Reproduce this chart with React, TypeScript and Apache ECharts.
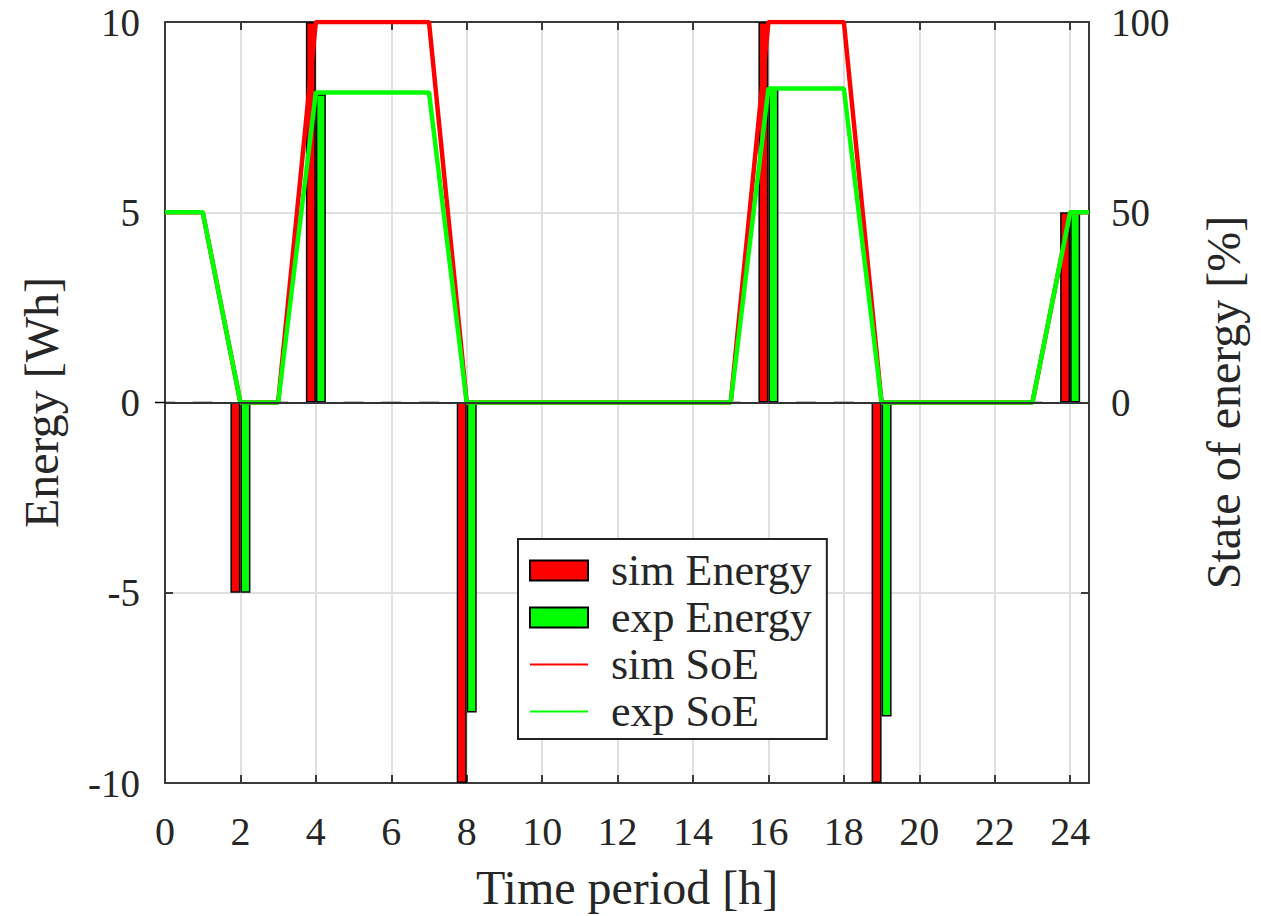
import React, { useEffect, useRef } from "react";
import * as echarts from "echarts";

// Hourly energy exchanged (Wh)
const hours = [0, 1, 2, 3, 4, 5, 6, 7, 8, 9, 10, 11, 12, 13, 14, 15, 16, 17, 18, 19, 20, 21, 22, 23, 24];
const simEnergy = [0, 0, -5, 0, 10, 0, 0, 0, -10, 0, 0, 0, 0, 0, 0, 0, 10, 0, 0, -10, 0, 0, 0, 0, 5];
const expEnergy = [0, 0, -5, 0, 8.1, 0, 0, 0, -8.15, 0, 0, 0, 0, 0, 0, 0, 8.25, 0, 0, -8.25, 0, 0, 0, 0, 5];

// State of energy (%)
const soeTime = [0, 1, 2, 3, 4, 7, 8, 15, 16, 18, 19, 23, 24, 24.5];
const simSoE = [50, 50, 0, 0, 100, 100, 0, 0, 100, 100, 0, 0, 50, 50];
const expSoE = [50, 50, 0, 0, 81.5, 81.5, 0, 0, 82.5, 82.5, 0, 0, 50, 50];

const FONT = "Liberation Serif";
const TEXT = "#262626";
const AXIS = "#3a3a3a";
const GRID = "#e0e0e0";
const LINE_ICON = "path://M0,0H58V2H0Z";

export default function App() {
  const ref = useRef<HTMLDivElement>(null);

  useEffect(() => {
    if (!ref.current) return;
    const chart = echarts.init(ref.current, null, { renderer: "svg" });

    const tickStyle = { show: true, inside: true, length: 8, lineStyle: { color: AXIS, width: 2 } };
    const lineStyle = { show: true, onZero: false, lineStyle: { color: AXIS, width: 2 } };
    const yLabel = { fontFamily: FONT, fontSize: 39, color: TEXT };

    const option: any = {
      animation: false,
      backgroundColor: "#fff",
      grid: { left: 165, right: 172, top: 22, bottom: 133, containLabel: false },
      legend: {
        orient: "vertical",
        left: 518,
        top: 539,
        padding: [8, 15, 4, 11],
        itemWidth: 58,
        itemHeight: 20,
        itemGap: 0,
        backgroundColor: "#fff",
        borderColor: "#222",
        borderWidth: 2,
        borderRadius: 0,
        textStyle: { fontFamily: FONT, fontSize: 44, color: TEXT, lineHeight: 47, padding: [0, 0, 0, 18] },
        data: [
          { name: "sim Energy", icon: "rect" },
          { name: "exp Energy", icon: "rect" },
          { name: "sim SoE", icon: LINE_ICON, itemStyle: { color: "#ff0000", borderWidth: 0 } },
          { name: "exp SoE", icon: LINE_ICON, itemStyle: { color: "#00ff00", borderWidth: 0 } },
        ],
      },
      xAxis: [
        {
          type: "value",
          min: 0,
          max: 24.5,
          interval: 2,
          position: "bottom",
          name: "Time period [h]",
          nameLocation: "middle",
          nameGap: 80,
          nameTextStyle: { fontFamily: FONT, fontSize: 48, color: TEXT },
          axisLine: lineStyle,
          axisTick: tickStyle,
          axisLabel: {
            fontFamily: FONT,
            fontSize: 40,
            color: TEXT,
            margin: 28,
            formatter: (v: number) => (v > 24 ? "" : String(v)),
          },
          splitLine: { show: true, showMinLine: false, showMaxLine: false, lineStyle: { color: GRID, width: 2 } },
        },
        {
          type: "value",
          min: 0,
          max: 24.5,
          interval: 2,
          position: "top",
          axisLine: lineStyle,
          axisTick: tickStyle,
          axisLabel: { show: false },
          splitLine: { show: false },
        },
      ],
      yAxis: [
        {
          type: "value",
          min: -10,
          max: 10,
          interval: 5,
          position: "left",
          name: "Energy [Wh]",
          nameLocation: "middle",
          nameGap: 100,
          nameRotate: 90,
          nameTextStyle: { fontFamily: FONT, fontSize: 48, color: TEXT },
          axisLine: lineStyle,
          axisTick: tickStyle,
          axisLabel: { ...yLabel, margin: 25 },
          splitLine: { show: true, showMinLine: false, showMaxLine: false, lineStyle: { color: GRID, width: 2 } },
        },
        {
          type: "value",
          min: -100,
          max: 100,
          interval: 50,
          position: "right",
          name: "State of energy [%]",
          nameLocation: "middle",
          nameGap: 110,
          nameRotate: 90,
          nameTextStyle: { fontFamily: FONT, fontSize: 48, color: TEXT },
          axisLine: lineStyle,
          axisTick: tickStyle,
          axisLabel: {
            ...yLabel,
            margin: 22,
            formatter: (v: number) => (v < 0 ? "" : String(v)),
          },
          splitLine: { show: false },
        },
      ],
      series: [
        {
          name: "sim Energy",
          type: "bar",
          xAxisIndex: 0,
          yAxisIndex: 0,
          barWidth: 10,
          barGap: "0%",
          itemStyle: { color: "#ff0000", borderColor: "#000", borderWidth: 1.5 },
          data: hours.map((h, i) => [h, simEnergy[i]]),
          markLine: {
            silent: true,
            symbol: "none",
            label: { show: false },
            lineStyle: { color: "#333", width: 2, type: "solid" },
            data: [{ yAxis: 0 }],
          },
          z: 2,
        },
        {
          name: "exp Energy",
          type: "bar",
          xAxisIndex: 0,
          yAxisIndex: 0,
          barWidth: 10,
          barGap: "0%",
          itemStyle: { color: "#00ff00", borderColor: "#000", borderWidth: 1.5 },
          data: hours.map((h, i) => [h, expEnergy[i]]),
          z: 2,
        },
        {
          name: "sim SoE",
          type: "line",
          xAxisIndex: 0,
          yAxisIndex: 1,
          symbol: "none",
          lineStyle: { color: "#ff0000", width: 4.5 },
          itemStyle: { color: "#ff0000" },
          data: soeTime.map((t, i) => [t, simSoE[i]]),
          z: 3,
        },
        {
          name: "exp SoE",
          type: "line",
          xAxisIndex: 0,
          yAxisIndex: 1,
          symbol: "none",
          lineStyle: { color: "#00ff00", width: 4.5 },
          itemStyle: { color: "#00ff00" },
          data: soeTime.map((t, i) => [t, expSoE[i]]),
          z: 4,
        },
      ],
    };

    chart.setOption(option);
    return () => chart.dispose();
  }, []);

  return (
    <div
      ref={ref}
      style={{ position: "fixed", left: 0, top: 0, width: 1261, height: 916, background: "#fff" }}
    />
  );
}
